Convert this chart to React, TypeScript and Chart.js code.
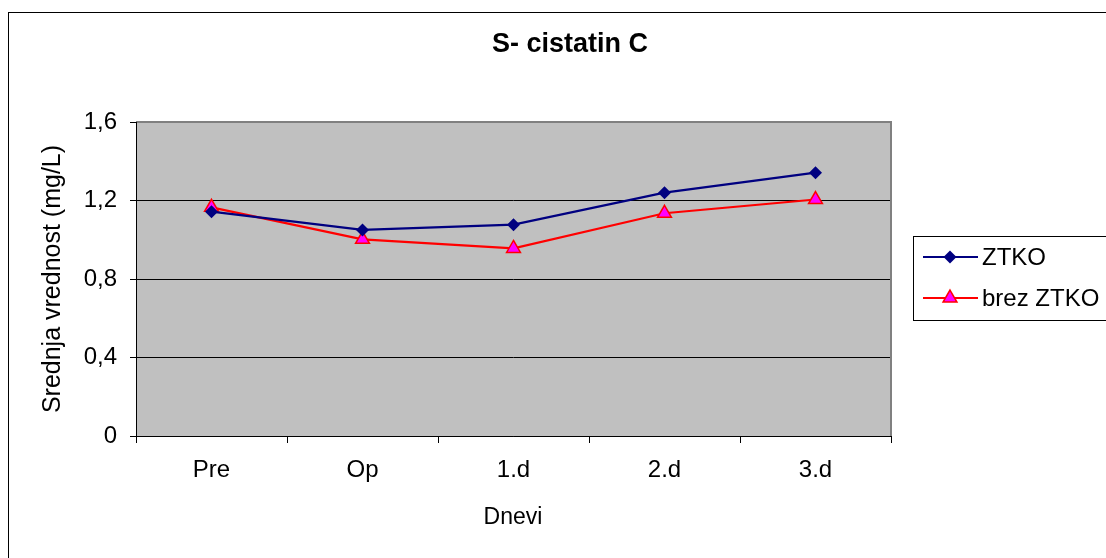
import React, { useEffect, useRef } from "react";
import { Chart, registerables } from "chart.js";

Chart.register(...registerables);

const categories = ["Pre", "Op", "1.d", "2.d", "3.d"];
const ztko = [1.143, 1.05, 1.077, 1.24, 1.342];
const brezZtko = [1.165, 1.002, 0.956, 1.135, 1.205];
const yTickLabels = ["0", "0,4", "0,8", "1,2", "1,6"];
const seriesNames = ["ZTKO", "brez ZTKO"];
const chartTitle = "S- cistatin C";
const yTitle = "Srednja vrednost (mg/L)";
const xTitle = "Dnevi";

const FONT = "'Liberation Sans', Arial, sans-serif";

function drawMarker(ctx: CanvasRenderingContext2D, kind: string, x: number, y: number) {
  ctx.save();
  if (kind === "diamond") {
    const r = 6.5;
    ctx.beginPath();
    ctx.moveTo(x, y - r);
    ctx.lineTo(x + r, y);
    ctx.lineTo(x, y + r);
    ctx.lineTo(x - r, y);
    ctx.closePath();
    ctx.fillStyle = "#000080";
    ctx.fill();
  } else {
    const r = 8;
    ctx.beginPath();
    ctx.moveTo(x, y - r);
    ctx.lineTo(x + r * 0.866, y + r * 0.5);
    ctx.lineTo(x - r * 0.866, y + r * 0.5);
    ctx.closePath();
    ctx.fillStyle = "#ff00ff";
    ctx.fill();
    ctx.strokeStyle = "#ff0000";
    ctx.lineWidth = 1.5;
    ctx.stroke();
  }
  ctx.restore();
}

const decorPlugin = {
  id: "decor",
  beforeDraw(chart: any) {
    const { ctx, chartArea } = chart;
    ctx.save();
    ctx.fillStyle = "#ffffff";
    ctx.fillRect(0, 0, chart.width, chart.height);
    ctx.strokeStyle = "#000000";
    ctx.lineWidth = 1;
    ctx.strokeRect(8.5, 12.5, 1200, 700);
    ctx.fillStyle = "#c0c0c0";
    ctx.fillRect(chartArea.left, chartArea.top, chartArea.right - chartArea.left, chartArea.bottom - chartArea.top);
    ctx.restore();
  },
  afterDraw(chart: any) {
    const { ctx, chartArea } = chart;
    ctx.save();
    ctx.strokeStyle = "#808080";
    ctx.lineWidth = 2;
    ctx.beginPath();
    ctx.moveTo(chartArea.left, chartArea.top);
    ctx.lineTo(chartArea.right, chartArea.top);
    ctx.lineTo(chartArea.right, chartArea.bottom);
    ctx.stroke();
    ctx.strokeStyle = "#000000";
    ctx.lineWidth = 1;
    ctx.beginPath();
    ctx.moveTo(chartArea.left + 0.5, chartArea.top);
    ctx.lineTo(chartArea.left + 0.5, chartArea.bottom);
    ctx.moveTo(chartArea.left, chartArea.bottom + 0.5);
    ctx.lineTo(chartArea.right, chartArea.bottom + 0.5);
    ctx.stroke();

    ctx.fillStyle = "#000000";
    ctx.textAlign = "center";
    ctx.textBaseline = "middle";
    ctx.font = `bold 27px ${FONT}`;
    ctx.fillText(chartTitle, 570, 45);

    ctx.font = `23px ${FONT}`;
    ctx.fillText(xTitle, 513, 518);

    ctx.save();
    ctx.translate(53, 279);
    ctx.rotate(-Math.PI / 2);
    ctx.font = `25px ${FONT}`;
    ctx.fillText(yTitle, 0, 0);
    ctx.restore();

    ctx.strokeStyle = "#000000";
    ctx.lineWidth = 1;
    ctx.strokeRect(913.5, 236.5, 300, 84);
    const rows = [
      { y: 257, color: "#000080", marker: "diamond" },
      { y: 298, color: "#ff0000", marker: "triangle" },
    ];
    rows.forEach((r, i) => {
      ctx.strokeStyle = r.color;
      ctx.lineWidth = 2;
      ctx.beginPath();
      ctx.moveTo(923, r.y);
      ctx.lineTo(978, r.y);
      ctx.stroke();
      drawMarker(ctx, r.marker, 950, r.y);
      ctx.fillStyle = "#000000";
      ctx.textAlign = "left";
      ctx.textBaseline = "middle";
      ctx.font = `24px ${FONT}`;
      ctx.fillText(seriesNames[i], 982, r.y + 1);
    });
    ctx.restore();
  },
};

export default function App() {
  const ref = useRef<HTMLCanvasElement>(null);
  useEffect(() => {
    if (!ref.current) return;
    const chart = new Chart(ref.current, {
      type: "line",
      data: {
        labels: categories,
        datasets: [
          {
            label: seriesNames[0],
            data: ztko,
            borderColor: "#000080",
            backgroundColor: "#000080",
            borderWidth: 2.2,
            pointStyle: "rectRot",
            pointRadius: 6.5,
            pointBorderWidth: 0,
            tension: 0,
          },
          {
            label: seriesNames[1],
            data: brezZtko,
            borderColor: "#ff0000",
            backgroundColor: "#ff00ff",
            borderWidth: 2.2,
            pointStyle: "triangle",
            pointRadius: 8,
            pointBorderWidth: 1.5,
            pointBorderColor: "#ff0000",
            tension: 0,
          },
        ],
      },
      options: {
        responsive: false,
        animation: false,
        layout: { padding: { left: 0, top: 122, right: 215, bottom: 0 } },
        plugins: {
          legend: { display: false },
          title: { display: false },
          tooltip: { enabled: false },
        },
        scales: {
          x: {
            offset: true,
            grid: {
              offset: true,
              drawOnChartArea: false,
              drawTicks: true,
              tickLength: 7,
              tickColor: "#000000",
            },
            border: { display: false },
            ticks: {
              color: "#000000",
              font: { family: FONT, size: 24 },
              padding: 13,
              maxRotation: 0,
            },
            afterFit: (s: any) => {
              s.height = 122;
            },
          },
          y: {
            min: 0,
            max: 1.6,
            ticks: {
              stepSize: 0.4,
              color: "#000000",
              font: { family: FONT, size: 24 },
              padding: 13,
              callback: (_v: any, i: number) => yTickLabels[i],
            },
            grid: {
              color: "#000000",
              lineWidth: 1,
              drawTicks: true,
              tickLength: 6,
              tickColor: "#000000",
            },
            border: { display: false },
            afterFit: (s: any) => {
              s.width = 136;
            },
          },
        },
      },
      plugins: [decorPlugin],
    });
    return () => chart.destroy();
  }, []);
  return (
    <div style={{ position: "absolute", left: 0, top: 0, width: 1106, height: 558 }}>
      <canvas ref={ref} width={1106} height={558} style={{ display: "block" }} />
    </div>
  );
}
